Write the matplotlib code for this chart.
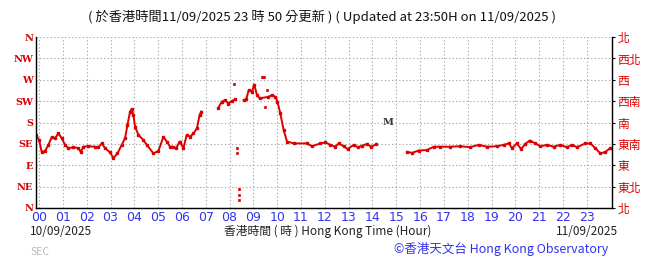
import numpy as np
import matplotlib
matplotlib.use("Agg")
import matplotlib.pyplot as plt

plt.rcParams['font.family'] = ['Noto Sans CJK TC', 'DejaVu Sans']

nan = np.nan

# wind direction (degrees, 0/360 = N) against hour of day
hours = [-0.13, 0.0, 0.11, 0.25, 0.39, 0.53, 0.67, 0.81, 0.95, 1.09, 1.23,
         1.44, 1.65, 1.75, 1.86, 2.07, 2.35, 2.49, 2.63, 2.77, 2.98, 3.12,
         3.29, 3.47, 3.61, 3.71, 3.82, 3.89, 3.96, 4.03, 4.17, 4.38, 4.52,
         4.8, 5.01, 5.22, 5.36, 5.5, 5.64, 5.76, 5.9, 6.06, 6.2, 6.34, 6.48,
         6.63, 6.74, 6.81, 7.2,
         7.53, 7.67, 7.82, 7.95, 8.1, 8.24, 8.4,
         8.59, 8.7, 8.8, 8.94, 9.03, 9.15, 9.26, 9.63, 9.78, 9.92, 10.01,
         10.13, 10.27, 10.41, 10.69, 11.25, 11.46, 11.81, 12.02, 12.23,
         12.44, 12.58, 12.79, 12.96, 13.21, 13.38, 13.56, 13.77, 13.94,
         14.15, 14.8,
         15.45, 15.66, 15.94, 16.29, 16.57, 16.85, 17.27, 17.69, 18.11,
         18.46, 18.81, 19.23, 19.51, 19.72, 19.86, 20.07, 20.24, 20.42,
         20.6, 20.84, 21.05, 21.33, 21.61, 21.89, 22.17, 22.38, 22.59,
         22.94, 23.15, 23.36, 23.57, 23.78, 23.99, 24.1]
direction = [154, 143, 118, 120, 133, 149, 147, 157, 147, 133, 126,
             128, 126, 118, 129, 130, 129, 128, 136, 126, 117, 105,
             115, 133, 147, 175, 203, 208, 196, 171, 154, 143, 133,
             115, 120, 150, 140, 129, 129, 126, 140, 126, 154, 150, 157,
             168, 196, 203, nan,
             211, 224, 227, 220, 225, 229, nan,
             227, 229, 248, 245, 260, 238, 231, 234, 238, 234, 224,
             199, 164, 140, 136, 136, 130, 136, 138, 133,
             129, 136, 130, 124, 133, 128, 131, 135, 129,
             134, nan,
             118, 116, 121, 122, 129, 129, 129, 130, 128,
             133, 129, 130, 133, 136, 126, 136, 124, 135,
             142, 136, 130, 133, 129, 133, 128, 133, 128,
             136, 136, 126, 115, 118, 126, 124]

# isolated readings
spot_hours = [8.17, 8.3, 8.29, 8.39, 8.41, 8.41, 9.36, 9.4, 9.44, 9.5, 9.55]
spot_dirs = [261, 127, 116, 41, 27, 17, 276, 276, 276, 213, 248]

dir_ticks = [0, 45, 90, 135, 180, 225, 270, 315, 360]
dir_en = ['N', 'NE', 'E', 'SE', 'S', 'SW', 'W', 'NW', 'N']
dir_zh = ['北', '東北', '東', '東南', '南', '西南', '西', '西北', '北']
hour_labels = ['%02d' % h for h in range(24)]

red = '#dd0000'
blue = '#3333ee'

fig = plt.figure(figsize=(6.55, 2.59), dpi=100)
ax = fig.add_axes([0.055, 0.197, 0.879, 0.66])

ax.plot(hours, direction, color=red, lw=1.4, marker='s', ms=1.5,
        mec=red, mfc=red)
ax.plot(spot_hours, spot_dirs, ls='none', color=red, marker='s', ms=1.6,
        mew=0.5)
ax.text(14.66, 181, 'M', family='DejaVu Serif', fontweight='bold',
        fontsize=7, color='#333333', ha='center', va='center')

ax.set_xlim(-0.13, 24.05)
ax.set_ylim(0, 360)
ax.set_xticks(range(24))
ax.set_xticklabels(hour_labels, color=blue, fontsize=9,
                   family=['DejaVu Sans'])
ax.set_yticks(dir_ticks)
ax.set_yticklabels(dir_en, color=red, fontsize=7, family='DejaVu Serif',
                   fontweight='bold')
ax.tick_params(axis='both', length=0, pad=2)
ax.grid(True, ls=(0, (1.2, 2)), color='#aaaaaa', lw=0.8)
ax.spines['top'].set_visible(False)
for s in ('left', 'right', 'bottom'):
    ax.spines[s].set_color('#222222')
    ax.spines[s].set_linewidth(1.0)

ax2 = ax.twinx()
ax2.set_ylim(0, 360)
ax2.set_yticks(dir_ticks)
ax2.set_yticklabels(dir_zh, color=red, fontsize=8.5)
ax2.tick_params(axis='y', length=2, pad=2)
ax2.spines['top'].set_visible(False)

fig.text(0.492, 0.934,
         '( 於香港時間11/09/2025 23 時 50 分更新 ) ( Updated at 23:50H on 11/09/2025 )',
         ha='center', va='center', fontsize=9.5, color='#111111')
fig.text(0.046, 0.108, '10/09/2025', ha='left', va='center', fontsize=8.5,
         color='#222222')
fig.text(0.50, 0.108, '香港時間 ( 時 ) Hong Kong Time (Hour)', ha='center',
         va='center', fontsize=8.5, color='#222222')
fig.text(0.944, 0.108, '11/09/2025', ha='right', va='center', fontsize=8.5,
         color='#222222')
fig.text(0.928, 0.039, '©香港天文台 Hong Kong Observatory', ha='right',
         va='center', fontsize=9, color=blue)
fig.text(0.046, 0.027, 'SEC', ha='left', va='center', fontsize=7.5,
         color='#bbbbbb')

fig.savefig('out.png', dpi=100)
